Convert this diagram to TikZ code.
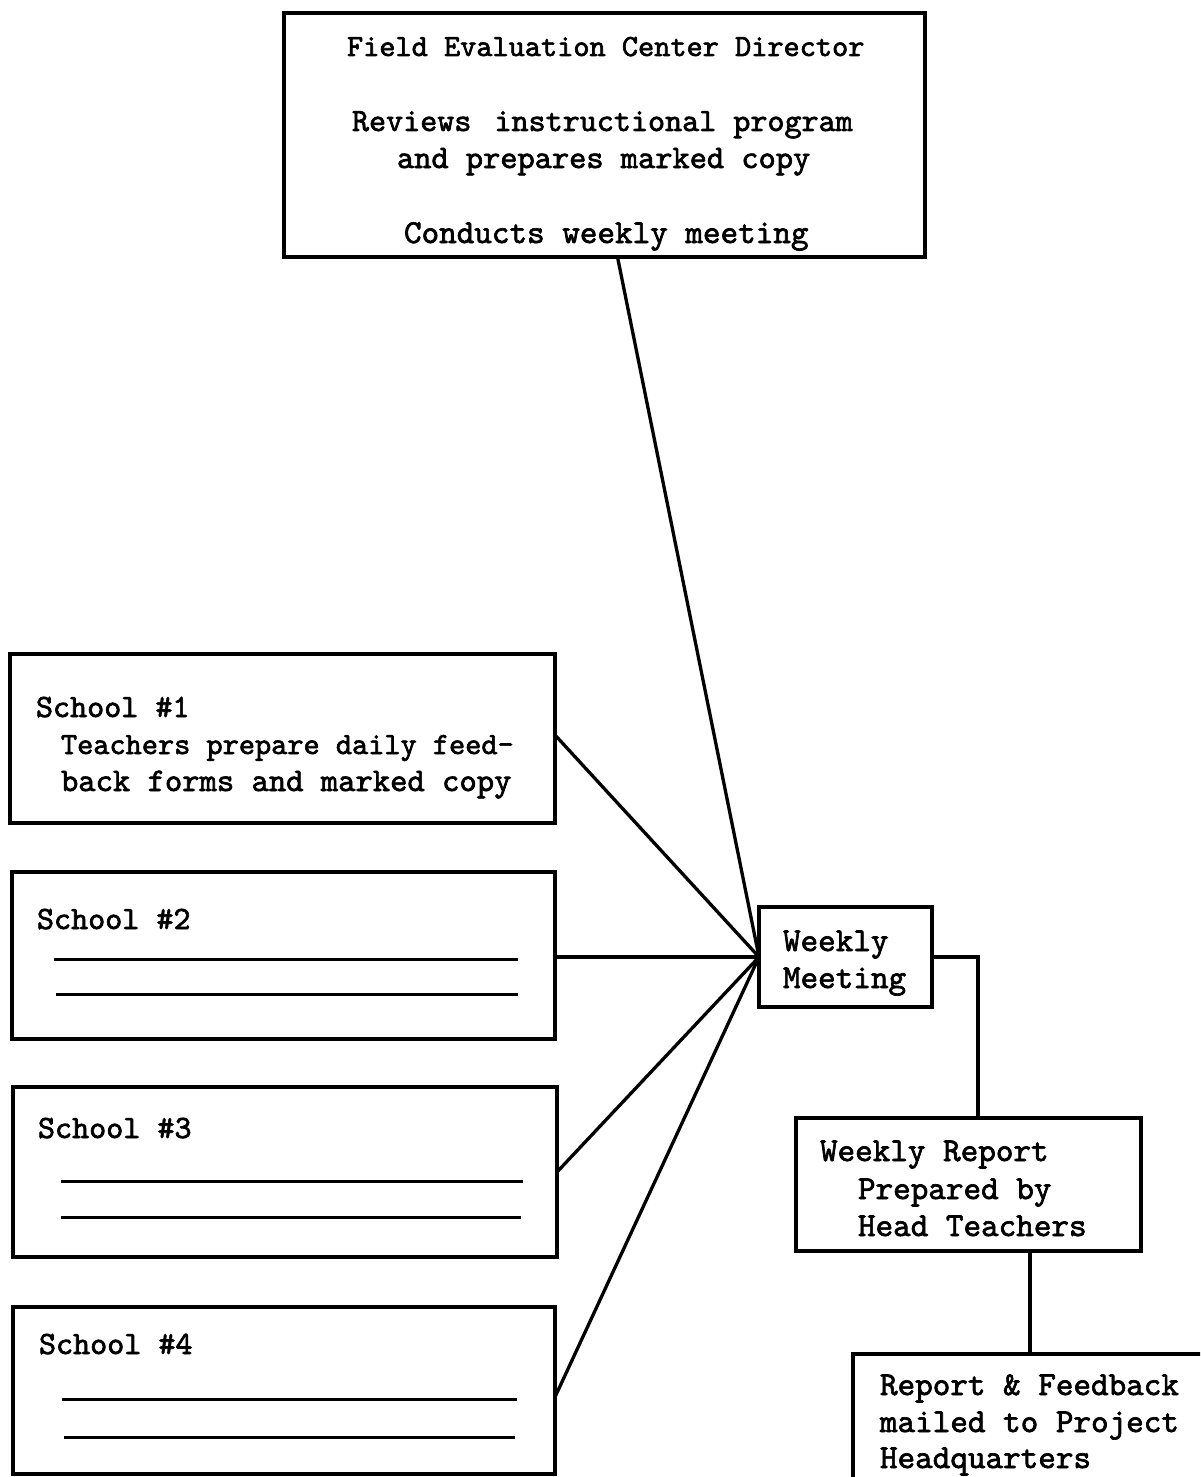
\documentclass[tikz,border=0pt]{standalone}
\usepackage{fontspec}
\newfontfamily\tw[FakeBold=2]{lmmono10-regular.otf}
\newcommand{\tws}[1]{\tw\fontsize{#1pt}{38pt}\selectfont}
\begin{document}
\begin{tikzpicture}[x=1pt,y=-1pt,
  box/.style={draw, line width=3.4pt, inner sep=0pt, outer sep=0pt, anchor=north west},
  txt/.style={anchor=base west, inner sep=0pt, outer sep=0pt, font={\tws{30.8}}},
  bigtxt/.style={txt, font={\tws{33.5}}},
  wire/.style={line width=3.3pt},
  blank/.style={line width=3pt}]
\useasboundingbox (0,0) rectangle (1200,1477);
\clip (0,0) rectangle (1200,1477);
\fill[white] (0,0) rectangle (1200,1477);

% boxes
\node[box, minimum width=641pt, minimum height=244pt] (dir) at (284,13) {};
\node[box, minimum width=545pt, minimum height=169pt] (s1) at (10,654) {};
\node[box, minimum width=543pt, minimum height=167pt] (s2) at (12,872) {};
\node[box, minimum width=544pt, minimum height=170pt] (s3) at (13,1087) {};
\node[box, minimum width=542pt, minimum height=167pt] (s4) at (13,1307) {};
\node[box, minimum width=173pt, minimum height=100pt] (meet) at (759,907) {};
\node[box, minimum width=345pt, minimum height=133pt] (rep) at (796,1118) {};
\node[box, minimum width=500pt, minimum height=300pt] (mail) at (853,1354) {};

% director text
\node[txt] (d1) at (347,56) {Field Evaluation Center Director};
\node[txt, font={\tws{32.5}}] (d2) at (352,131) {Reviews\hspace{6pt} instructional program};
\node[txt, font={\tws{32.8}}] (d3) at (397,168) {and prepares marked copy};
\node[txt, font={\tws{33.5}}] (d4) at (404,243) {Conducts weekly meeting};

% schools
\node[txt, font={\tws{32.5}}] (s1a) at (36,717) {School \#1};
\node[txt] (s1b) at (61,754) {Teachers prepare daily feed-};
\node[txt, font={\tws{33}}] (s1c) at (61,791) {back forms and marked copy};
\node[txt, font={\tws{32.5}}] (s2a) at (37,929) {School \#2};
\node[txt, font={\tws{32.5}}] (s3a) at (38,1138) {School \#3};
\node[txt, font={\tws{32.5}}] (s4a) at (39,1354) {School \#4};

\draw[blank] (54,959) -- (518,959);
\draw[blank] (56,994) -- (518,994);
\draw[blank] (61,1181) -- (523,1181);
\draw[blank] (61,1217) -- (521,1217);
\draw[blank] (62,1399) -- (517,1399);
\draw[blank] (64,1437) -- (515,1437);

% meeting / report / mail
\node[bigtxt] (m1) at (783,951) {Weekly};
\node[bigtxt] (m2) at (783,988) {Meeting};
\node[bigtxt] (r1) at (820,1161) {Weekly Report};
\node[bigtxt] (r2) at (858,1199) {Prepared by};
\node[bigtxt] (r3) at (858,1236) {Head Teachers};
\node[bigtxt] (f1) at (880,1395) {Report \& Feedback};
\node[bigtxt] (f2) at (880,1432) {mailed to Project};
\node[bigtxt] (f3) at (880,1468) {Headquarters};

% connectors
\coordinate (hub) at (meet.west);
\draw[wire] ([xshift=13pt]dir.south) -- (hub);
\draw[wire] ([yshift=3.5pt]s1.east) -- (hub);
\draw[wire] (s2.east |- hub) -- (hub);
\draw[wire] (s3.east) -- (hub);
\draw[wire] ([yshift=-6.5pt]s4.east) -- (hub);
\draw[wire] (meet.east) -| ([xshift=9.5pt]rep.north);
\draw[wire] ([xshift=61.5pt]rep.south) -- ([xshift=61.5pt]rep.south |- mail.north);
\end{tikzpicture}
\end{document}
